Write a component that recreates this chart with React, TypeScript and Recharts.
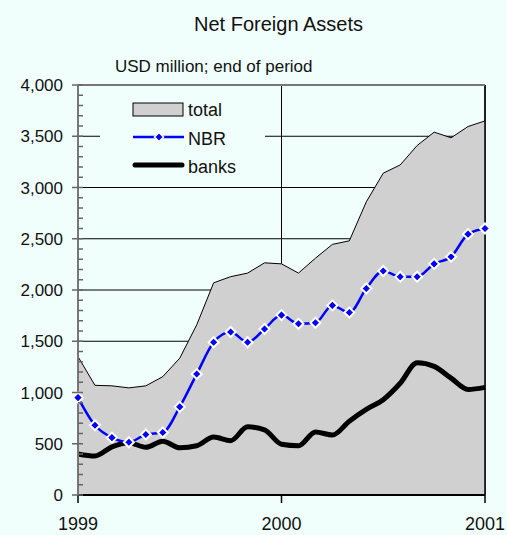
import React from 'react';
import { ComposedChart, Area, Line, XAxis, YAxis, CartesianGrid, ReferenceLine, Legend } from 'recharts';

const months = [
  '1999-01', '1999-02', '1999-03', '1999-04', '1999-05', '1999-06', '1999-07', '1999-08', '1999-09', '1999-10', '1999-11', '1999-12',
  '2000-01', '2000-02', '2000-03', '2000-04', '2000-05', '2000-06', '2000-07', '2000-08', '2000-09', '2000-10', '2000-11', '2000-12',
  '2001-01',
];
const total = [1350, 1070, 1065, 1045, 1065, 1155, 1335, 1660, 2070, 2130, 2165, 2265, 2255, 2165, 2310, 2445, 2480, 2860, 3140, 3220, 3410, 3540, 3485, 3595, 3650];
const nbr = [950, 680, 560, 515, 590, 610, 860, 1180, 1490, 1590, 1490, 1620, 1755, 1670, 1680, 1850, 1780, 2015, 2185, 2130, 2130, 2255, 2325, 2545, 2600];
const banks = [400, 380, 470, 510, 465, 525, 460, 480, 565, 530, 665, 635, 495, 480, 615, 585, 720, 835, 930, 1090, 1290, 1255, 1140, 1030, 1050];
const xTicks = ['1999-01', '2000-01', '2001-01'];
const yMajorTicks = [0, 500, 1000, 1500, 2000, 2500, 3000, 3500, 4000];
const yGridValues = [500, 1000, 1500, 2000, 2500, 3000, 3500];
const yAllTicks = [
  0, 100, 200, 300, 400, 500, 600, 700, 800, 900, 1000, 1100, 1200, 1300, 1400, 1500, 1600, 1700, 1800, 1900, 2000,
  2100, 2200, 2300, 2400, 2500, 2600, 2700, 2800, 2900, 3000, 3100, 3200, 3300, 3400, 3500, 3600, 3700, 3800, 3900, 4000,
];

const data = months.map((m, i) => ({ month: m, total: total[i], nbr: nbr[i], banks: banks[i] }));

const BG = '#F0FFFC';
const FONT = '"Liberation Sans", Arial, sans-serif';

const fmt = (v: number) => v.toLocaleString('en-US');

const YTick = (props: any) => {
  const { x, y, payload } = props;
  const v = payload.value as number;
  const major = yMajorTicks.includes(v);
  return (
    <g>
      <line x1={major ? x - 6 : x} x2={x + 5} y1={y} y2={y} stroke="#666" strokeWidth={1.5} />
      {major && (
        <text x={x - 15} y={y} dy="0.36em" textAnchor="end" fontSize={17} fill="#111" fontFamily={FONT}>
          {fmt(v)}
        </text>
      )}
    </g>
  );
};

const XTick = (props: any) => {
  const { x, y, payload } = props;
  return (
    <text x={x} y={y} dy="0.71em" textAnchor="middle" fontSize={18} fill="#111" fontFamily={FONT}>
      {String(payload.value).slice(0, 4)}
    </text>
  );
};

const Diamond = (props: any) => {
  const { cx, cy } = props;
  if (cx == null || cy == null) return null;
  const r = 5;
  return (
    <polygon
      points={`${cx},${cy - r} ${cx + r},${cy} ${cx},${cy + r} ${cx - r},${cy}`}
      fill="#0000FF"
      stroke="#FFFFFF"
      strokeWidth={2}
    />
  );
};

const renderLegend = () => (
  <svg width={165} height={95} style={{ display: 'block' }}>
    <rect x={33} y={15} width={50} height={13} fill="#D0D0D0" stroke="#000" strokeWidth={1} />
    <text x={88} y={28} fontSize={18} fill="#111" fontFamily={FONT}>total</text>
    <line x1={33} x2={84} y1={49} y2={49} stroke="#0000FF" strokeWidth={2.5} />
    <polygon points="59,44.5 63.5,49 59,53.5 54.5,49" fill="#0000FF" stroke="#FFFFFF" strokeWidth={1.5} />
    <text x={88} y={57} fontSize={18} fill="#111" fontFamily={FONT}>NBR</text>
    <line x1={35} x2={82} y1={77} y2={77} stroke="#000" strokeWidth={5} strokeLinecap="round" />
    <text x={88} y={85} fontSize={18} fill="#111" fontFamily={FONT}>banks</text>
  </svg>
);

export default function App() {
  return (
    <div style={{ position: 'absolute', left: 0, top: 0, width: 507, height: 535, background: BG, fontFamily: FONT }}>
      <div style={{ position: 'absolute', left: 0, top: 12, width: 557, textAlign: 'center', fontSize: 20, color: '#111', lineHeight: '24px' }}>
        Net Foreign Assets
      </div>
      <div style={{ position: 'absolute', left: 115, top: 57, fontSize: 17, color: '#111', lineHeight: '20px', whiteSpace: 'nowrap' }}>
        USD million; end of period
      </div>
      <ComposedChart width={507} height={535} data={data} margin={{ top: 85, right: 22, bottom: 0, left: 0 }}>
        <CartesianGrid horizontalValues={yGridValues} stroke="#000" strokeWidth={1} fill="none" />
        <XAxis
          dataKey="month"
          scale="point"
          ticks={xTicks}
          interval={0}
          height={40}
          tick={<XTick />}
          tickSize={8}
          tickMargin={14}
          axisLine={{ stroke: '#000', strokeWidth: 2 }}
          tickLine={{ stroke: '#000', strokeWidth: 1.5 }}
        />
        <YAxis
          domain={[0, 4000]}
          ticks={yAllTicks}
          interval={0}
          width={78}
          tickSize={0}
          tickMargin={0}
          tick={<YTick />}
          tickLine={false}
          axisLine={{ stroke: '#777', strokeWidth: 2 }}
          allowDataOverflow
        />
        <Area
          type="linear"
          dataKey="total"
          name="total"
          fill="#D0D0D0"
          fillOpacity={1}
          stroke="#000"
          strokeWidth={1}
          isAnimationActive={false}
        />
        <ReferenceLine x="2001-01" stroke="#000" strokeWidth={1.5} />
        <ReferenceLine y={4000} stroke="#777" strokeWidth={2} />
        <Line
          type="monotone"
          dataKey="banks"
          name="banks"
          stroke="#000"
          strokeWidth={5}
          dot={false}
          isAnimationActive={false}
        />
        <Line
          type="monotone"
          dataKey="nbr"
          name="NBR"
          stroke="#0000FF"
          strokeWidth={2.5}
          dot={<Diamond />}
          isAnimationActive={false}
        />
        <Legend
          layout="vertical"
          align="center"
          verticalAlign="middle"
          content={renderLegend}
          wrapperStyle={{ position: 'absolute', left: 100, top: 88, width: 165, height: 95, background: BG }}
        />
      </ComposedChart>
    </div>
  );
}
